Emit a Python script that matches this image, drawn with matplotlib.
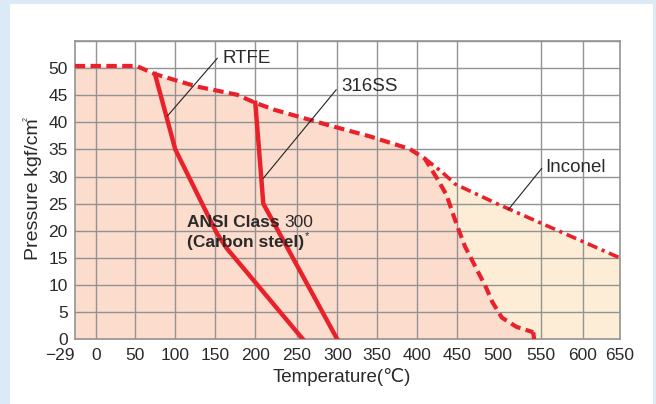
import matplotlib
matplotlib.use("Agg")
import matplotlib.pyplot as plt
import numpy as np

plt.rcParams['font.family'] = ['Liberation Sans', 'DejaVu Sans', 'Noto Sans CJK JP']

# ---- data (temperature °C, pressure kgf/cm²) ----
cs_t = [-29, 51.5, 74.6, 126.9, 177, 200, 223.3, 291, 341, 390.4, 409.6, 424.7, 436.9, 444, 452, 459.8, 485.3, 493, 504.5, 521.4, 541, 542]
cs_p = [50.4, 50.4, 48.9, 46.6, 45.1, 43.6, 42.3, 39.4, 37.4, 35.1, 33.3, 29.7, 26.6, 23.5, 20.2, 17.1, 9.6, 6.9, 4.0, 2.3, 1.3, 0.0]

inc_t = [409.6, 430.7, 447.9, 501.6, 650]
inc_p = [33.3, 30.9, 28.6, 24.8, 15.0]

rtfe_t = [74.6, 100, 151.7, 164.2, 257.4]
rtfe_p = [48.9, 35.0, 19.6, 16.8, 0.0]

ss_t = [200, 209.6, 300]
ss_p = [43.6, 25.0, 0.0]

xticks = [-29, 0, 50, 100, 150, 200, 250, 300, 350, 400, 450, 500, 550, 600, 650]
xgrid = [0, 50, 100, 150, 200, 250, 300, 350, 400, 450, 550, 600]
yticks = [0, 5, 10, 15, 20, 25, 30, 35, 40, 45, 50]

# uneven printed spacing of the temperature axis (pixel position of each tick)
x_px = [74.7, 95.7, 135.3, 175.3, 215.3, 255.3, 297, 337.3, 377.3, 417.3, 457, 498, 541, 582.7, 620]

RED = '#e8212b'
GRID = '#939393'
CS_FILL = '#fcdccd'
INC_FILL = '#fdedd6'
TXT = '#2a2a2a'

fig = plt.figure(figsize=(6.56, 4.04), dpi=100)
fig.patch.set_facecolor('#dce9f6')
bg = fig.add_axes([10/656, 0, 643/656, 400/404], zorder=-5)
bg.set_facecolor('white')
bg.set_xticks([]); bg.set_yticks([])
for s in bg.spines.values():
    s.set_visible(False)

ax = fig.add_axes([74.7/656, 1-339.3/404, (620-74.7)/656, (339.3-41)/404], zorder=1)
ax.set_facecolor('none')

fwd = lambda v: np.interp(v, xticks, x_px)
inv = lambda v: np.interp(v, x_px, xticks)
ax.set_xscale('function', functions=(fwd, inv))
ax.set_xlim(-29, 650)
ax.set_ylim(0, 55)

# fills
ax.fill_between(inc_t + [650], inc_p + [0], 0, color=INC_FILL, zorder=1, lw=0)
ax.fill_between(cs_t, cs_p, 0, color=CS_FILL, zorder=1.1, lw=0)

# grid
for g in xgrid:
    ax.axvline(g, color=GRID, lw=1.0, zorder=2)
for g in yticks[1:] + [55]:
    ax.axhline(g, color=GRID, lw=1.0, zorder=2)
for s in ax.spines.values():
    s.set_color(GRID)
    s.set_linewidth(1.2)
    s.set_zorder(2)

# curves
ax.plot(cs_t[:-1], cs_p[:-1], color=RED, lw=3.0, dashes=(2.5, 1.3), zorder=4)
ax.plot(cs_t[-2:], cs_p[-2:], color=RED, lw=3.0, zorder=4, solid_capstyle='butt')
ax.plot(inc_t, inc_p, color=RED, lw=2.6, dashes=(2.9, 1.3, 0.9, 1.3), zorder=4)
ax.plot(rtfe_t, rtfe_p, color=RED, lw=3.2, zorder=5, solid_joinstyle='miter')
ax.plot(ss_t, ss_p, color=RED, lw=3.2, zorder=5, solid_joinstyle='miter')

# ticks
ax.set_xticks(xticks)
ax.set_xticklabels([('\u221229' if t == -29 else str(t)) for t in xticks])
ax.set_yticks(yticks)
ax.tick_params(length=0, labelsize=12.5, labelcolor=TXT, pad=5)
ax.tick_params(axis='x', pad=6)
ax.get_xticklabels()[0].set_ha('right')

# leader lines & labels
ax.plot([90.3, 152.4], [41.2, 51.8], color='#222222', lw=0.8, zorder=6)
ax.text(158.4, 51.8, 'RTFE', fontsize=13.5, color=TXT, va='center', ha='left', zorder=7)
ax.plot([209.6, 298.6], [29.7, 46.0], color='#222222', lw=0.8, zorder=6)
ax.text(305.5, 46.7, '316SS', fontsize=13.5, color=TXT, va='center', ha='left', zorder=7)
ax.plot([512, 550.8], [23.9, 31.5], color='#222222', lw=0.8, zorder=6)
ax.text(554.8, 31.6, 'Inconel', fontsize=13.5, color=TXT, va='center', ha='left', zorder=7)

t1 = ax.text(115, 21.6, 'ANSI Class ', fontsize=12.5, fontweight='bold', color=TXT,
             va='center', ha='left', zorder=7)
ax.annotate('300', xy=(1, 0), xycoords=t1, fontsize=12.5, color=TXT,
            va='bottom', ha='left', zorder=7)
t2 = ax.text(115, 17.9, '(Carbon steel)', fontsize=12.5, fontweight='bold', color=TXT,
             va='center', ha='left', zorder=7)
ax.annotate('*', xy=(1, 0.55), xycoords=t2, fontsize=8, color=TXT,
            va='bottom', ha='left', zorder=7)

fig.text(341.5/656, 1-376.7/404, 'Temperature(\u2103)', fontsize=13.5, color=TXT,
         ha='center', va='center')
yl = fig.text(33.5/656, 1-189/404, 'Pressure kgf/cm', fontsize=14, color=TXT,
              ha='center', va='center', rotation=90)
fig.text(26.5/656, 1-121/404, '2', fontsize=5, color=TXT, ha='center', va='bottom', rotation=90)

fig.savefig('out.png', dpi=100, facecolor=fig.get_facecolor())
